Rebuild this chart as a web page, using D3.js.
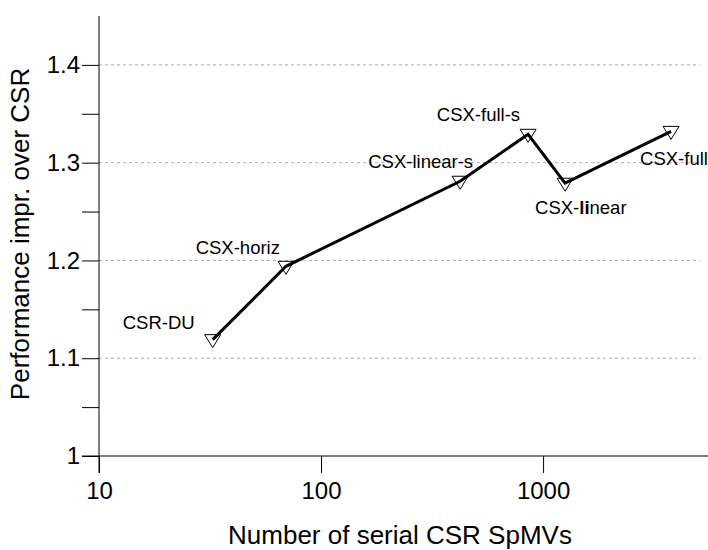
<!DOCTYPE html>
<html><head><meta charset="utf-8">
<script src="https://cdn.jsdelivr.net/npm/d3@7"></script>
<style>body{margin:0;background:#fff}svg{display:block}text{font-family:"Liberation Sans",Arial,sans-serif}</style>
</head><body>
<svg id="c" width="708" height="550"></svg>
<script>
const names = ["CSR-DU","CSX-horiz","CSX-linear-s","CSX-full-s","CSX-linear","CSX-full"];
const serialSpMVs = [32.5, 69.5, 423, 856, 1256, 3770];
const perfImpr = [1.119, 1.194, 1.281, 1.329, 1.279, 1.332];
const xTicks = [10, 100, 1000];
const yTicks = [1, 1.1, 1.2, 1.3, 1.4];
const yMinor = [1.05, 1.15, 1.25, 1.35];
const yGrid = [1.1, 1.2, 1.3, 1.4];

// label placement (style)
const labelPos = [
  {a:"end", dx:-18, dy:-11},
  {a:"end", dx:-6, dy:-12},
  {a:"end", dx:13, dy:-13},
  {a:"end", dx:-8, dy:-13},
  {a:"start", dx:-30, dy:31},
  {a:"start", dx:-31, dy:34}
];

const svg = d3.select("#c");
const x = d3.scaleLog().domain([10, 5530]).range([99, 708]);
const y = d3.scaleLinear().domain([1, 1.45]).range([456, 16]);

// grid
svg.append("g").selectAll("line").data(yGrid).join("line")
  .attr("x1", x(10)).attr("x2", 700)
  .attr("y1", d => y(d)).attr("y2", d => y(d))
  .attr("stroke", "#b0b0b0").attr("stroke-width", 1).attr("stroke-dasharray", "3,3");

// y axis
const yAxis = d3.axisLeft(y).tickValues(yTicks).tickFormat(d3.format("~g")).tickSize(17).tickPadding(2);
const gy = svg.append("g").attr("transform", `translate(${x(10)},0)`).call(yAxis);
gy.select(".domain").remove();
gy.selectAll("text").attr("font-size", 24).attr("fill", "#000").style("font-family", '"Liberation Sans",Arial,sans-serif');
gy.selectAll("line").attr("stroke", "#000");
const gym = svg.append("g").attr("transform", `translate(${x(10)},0)`)
  .call(d3.axisLeft(y).tickValues(yMinor).tickFormat("").tickSize(17));
gym.select(".domain").remove();
gym.selectAll("line").attr("stroke", "#000");
svg.append("line").attr("x1", x(10)).attr("x2", x(10)).attr("y1", y(1.45)).attr("y2", y(1) + 17).attr("stroke", "#000");

// x axis
const xAxis = d3.axisBottom(x).tickValues(xTicks).tickFormat(d3.format("d")).tickSize(17).tickPadding(9);
const gx = svg.append("g").attr("transform", `translate(0,${y(1)})`).call(xAxis);
gx.select(".domain").remove();
gx.selectAll("text").attr("font-size", 24).attr("fill", "#000").style("font-family", '"Liberation Sans",Arial,sans-serif');
gx.selectAll("line").attr("stroke", "#000");
svg.append("line").attr("x1", x(10) - 17).attr("x2", 708).attr("y1", y(1)).attr("y2", y(1)).attr("stroke", "#000");

// titles
svg.append("text").attr("x", 400).attr("y", 544).attr("text-anchor", "middle").attr("font-size", 26).text("Number of serial CSR SpMVs");
svg.append("text").attr("transform", "translate(29,234) rotate(-90)").attr("text-anchor", "middle").attr("font-size", 26).text("Performance impr. over CSR");

const pts = names.map((n, i) => ({n, xv: serialSpMVs[i], yv: perfImpr[i], lp: labelPos[i]}));

// markers
const tri = "M-8,-5L8,-5L0,8Z";
svg.append("g").selectAll("path").data(pts).join("path")
  .attr("d", tri).attr("transform", d => `translate(${x(d.xv)},${y(d.yv)})`)
  .attr("fill", "none").attr("stroke", "#000").attr("stroke-width", 1);

// line
svg.append("path").datum(pts)
  .attr("d", d3.line().x(d => x(d.xv)).y(d => y(d.yv)))
  .attr("fill", "none").attr("stroke", "#000").attr("stroke-width", 3);

// labels
const lab = svg.append("g").selectAll("text").data(pts).join("text")
  .attr("x", d => x(d.xv) + d.lp.dx).attr("y", d => y(d.yv) + d.lp.dy)
  .attr("text-anchor", d => d.lp.a).attr("font-size", 18.5);
lab.each(function(d) {
  const t = d3.select(this);
  if (d.n === "CSX-linear") {
    t.append("tspan").text("CSX-");
    t.append("tspan").attr("font-weight", "bold").text("li");
    t.append("tspan").text("near");
  } else t.text(d.n);
});
</script>
</body></html>
